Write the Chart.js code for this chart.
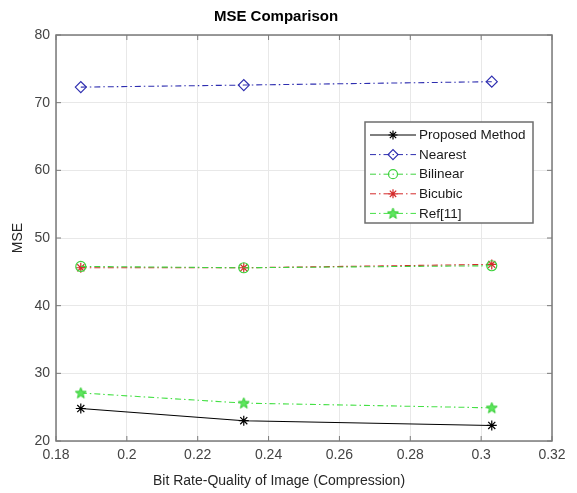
<!DOCTYPE html>
<html>
<head>
<meta charset="utf-8">
<script src="https://cdn.jsdelivr.net/npm/chart.js@4.4.1/dist/chart.umd.min.js"></script>
<style>
  html, body { margin: 0; padding: 0; background: #fff; }
  #wrap { width: 577px; height: 493px; }
</style>
</head>
<body>
<div id="wrap"><canvas id="mseChart" width="577" height="493"></canvas></div>
<script>
const bitRates = [0.187, 0.233, 0.303];
const proposed = [24.8, 23.0, 22.3];
const nearest = [72.3, 72.6, 73.1];
const bilinear = [45.8, 45.6, 45.9];
const bicubic = [45.6, 45.6, 46.1];
const ref11 = [27.1, 25.6, 24.9];
const xTicks = [0.18, 0.2, 0.22, 0.24, 0.26, 0.28, 0.3, 0.32];
const yTicks = [20, 30, 40, 50, 60, 70, 80];
const xLabel = "Bit Rate-Quality of Image (Compression)";

const FONT = "'Liberation Sans', Arial, sans-serif";
const dashDot = [6, 3, 1.5, 3];

// little filled pentagram like matlab 'p' marker
function makeStar(fill, stroke) {
  const c = document.createElement("canvas");
  c.width = 13; c.height = 13;
  const g = c.getContext("2d");
  g.beginPath();
  for (let i = 0; i < 10; i++) {
    const r = i % 2 === 0 ? 5.8 : 2.4;
    const a = -Math.PI / 2 + i * Math.PI / 5;
    const px = 6.5 + r * Math.cos(a), py = 6.8 + r * Math.sin(a);
    if (i === 0) g.moveTo(px, py); else g.lineTo(px, py);
  }
  g.closePath();
  g.fillStyle = fill;
  g.fill();
  g.strokeStyle = stroke;
  g.lineWidth = 1;
  g.stroke();
  return c;
}
const starImg = makeStar("#5ee65e", "#33cc33");

function pts(ys) {
  return bitRates.map((x, i) => ({ x: x, y: ys[i] }));
}

const series = [
  { label: "Proposed Method", data: proposed, color: "#000000", dash: [], style: "star", radius: 5 },
  { label: "Nearest", data: nearest, color: "#2e2eb0", dash: dashDot, style: "rectRot", radius: 5.5 },
  { label: "Bilinear", data: bilinear, color: "#3fd23f", dash: dashDot, style: "circle", radius: 5 },
  { label: "Bicubic", data: bicubic, color: "#d42a2a", dash: dashDot, style: "star", radius: 5 },
  { label: "Ref[11]", data: ref11, color: "#45e045", dash: dashDot, style: starImg, radius: 6 }
];

const drawPoint = Chart.helpers.drawPoint;

const boxPlugin = {
  id: "matlabBox",
  afterDatasetsDraw(chart) {
    const { ctx, chartArea: a, scales } = chart;
    ctx.save();
    ctx.strokeStyle = "#7a7a7a";
    ctx.lineWidth = 1.5;
    ctx.strokeRect(a.left, a.top, a.right - a.left, a.bottom - a.top);
    ctx.lineWidth = 1;
    ctx.beginPath();
    xTicks.forEach(v => {
      const px = scales.x.getPixelForValue(v);
      ctx.moveTo(px, a.bottom); ctx.lineTo(px, a.bottom - 5);
      ctx.moveTo(px, a.top); ctx.lineTo(px, a.top + 5);
    });
    yTicks.forEach(v => {
      const py = scales.y.getPixelForValue(v);
      ctx.moveTo(a.left, py); ctx.lineTo(a.left + 5, py);
      ctx.moveTo(a.right, py); ctx.lineTo(a.right - 5, py);
    });
    ctx.stroke();
    // x axis label, sits a bit left of the plot centre like the original figure
    ctx.fillStyle = "#262626";
    ctx.font = "14px " + FONT;
    ctx.textAlign = "center";
    ctx.textBaseline = "middle";
    ctx.fillText(xLabel, 279, 481);
    ctx.restore();
  }
};

const legendPlugin = {
  id: "insideLegend",
  afterDraw(chart) {
    const ctx = chart.ctx;
    const bx = 365, by = 122, bw = 168, bh = 101;
    ctx.save();
    ctx.fillStyle = "#ffffff";
    ctx.fillRect(bx, by, bw, bh);
    ctx.strokeStyle = "#6e6e6e";
    ctx.lineWidth = 1.5;
    ctx.strokeRect(bx, by, bw, bh);
    ctx.font = "13.5px " + FONT;
    ctx.textBaseline = "middle";
    series.forEach((s, i) => {
      const y = 135 + i * 19.6;
      ctx.strokeStyle = s.color;
      ctx.lineWidth = 1;
      ctx.setLineDash(s.dash);
      ctx.beginPath();
      ctx.moveTo(370, y); ctx.lineTo(416, y);
      ctx.stroke();
      ctx.setLineDash([]);
      ctx.strokeStyle = s.color;
      ctx.fillStyle = (s.style === "circle" || s.style === "rectRot") ? "rgba(0,0,0,0)" : s.color;
      ctx.lineWidth = 1.2;
      drawPoint(ctx, { pointStyle: s.style, radius: s.radius - 0.5, rotation: 0, borderWidth: 1.2 }, 393, y);
      ctx.fillStyle = "#1a1a1a";
      ctx.fillText(s.label, 419, y + 0.5);
    });
    ctx.restore();
  }
};

new Chart(document.getElementById("mseChart").getContext("2d"), {
  type: "line",
  data: {
    datasets: series.map(s => ({
      label: s.label,
      data: pts(s.data),
      borderColor: s.color,
      backgroundColor: s.style === "circle" || s.style === "rectRot" ? "rgba(0,0,0,0)" : s.color,
      borderWidth: 1.1,
      borderDash: s.dash,
      pointStyle: s.style,
      pointRadius: s.radius,
      pointBorderColor: s.color,
      pointBorderWidth: 1.2,
      fill: false,
      tension: 0
    }))
  },
  options: {
    responsive: false,
    animation: false,
    layout: { padding: { top: 1, right: 25, left: 0, bottom: 0 } },
    plugins: {
      legend: { display: false },
      tooltip: { enabled: false },
      title: {
        display: true,
        text: "MSE Comparison",
        color: "#000",
        font: { family: FONT, size: 15, weight: "bold" },
        padding: { top: 7, bottom: 9 }
      }
    },
    scales: {
      x: {
        type: "linear",
        min: 0.18,
        max: 0.32,
        afterBuildTicks: sc => { sc.ticks = xTicks.map(v => ({ value: v })); },
        afterFit: sc => { sc.height = 52; },
        grid: { color: "#e8e8e8", drawTicks: false, tickLength: 0 },
        border: { display: false },
        ticks: {
          color: "#444",
          padding: 6,
          maxRotation: 0,
          font: { family: FONT, size: 14 },
          callback: v => String(Number(v.toFixed(2)))
        },
        title: { display: false }
      },
      y: {
        min: 20,
        max: 80,
        afterBuildTicks: sc => { sc.ticks = yTicks.map(v => ({ value: v })); },
        afterFit: sc => { sc.width = 56; },
        grid: { color: "#e8e8e8", drawTicks: false, tickLength: 0 },
        border: { display: false },
        ticks: {
          color: "#444",
          padding: 6,
          font: { family: FONT, size: 14 }
        },
        title: {
          display: true,
          text: "MSE",
          color: "#262626",
          font: { family: FONT, size: 14 },
          padding: { top: 10, bottom: 0 }
        }
      }
    }
  },
  plugins: [boxPlugin, legendPlugin]
});
</script>
</body>
</html>
